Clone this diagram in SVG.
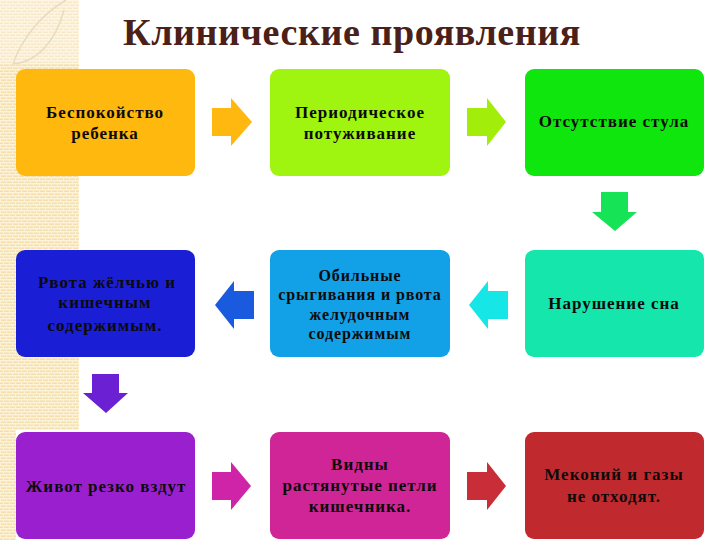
<svg xmlns="http://www.w3.org/2000/svg" width="720" height="540" viewBox="0 0 720 540">
<style>
text{font-family:"Liberation Serif","Times New Roman",serif;font-weight:bold;font-size:17px;fill:#0d0a0a;text-anchor:middle;letter-spacing:1px}
.title{font-size:38px;fill:#4a2018;letter-spacing:.6px}
#n5 text{font-size:16px;letter-spacing:.9px}
</style>
<defs>
<pattern id="p" width="6" height="6" patternUnits="userSpaceOnUse">
<rect width="6" height="6" fill="#f5dfae"/>
<rect y="0" width="6" height="1.5" fill="#fdf3d8"/>
<rect y="3" width="6" height="1.5" fill="#fdf3d8"/>
<rect x="0" y="1.5" width="1" height="1.5" fill="#fdf3d8"/>
<rect x="3" y="4.5" width="1" height="1.5" fill="#fdf3d8"/>
</pattern>
</defs>
<rect width="720" height="540" fill="#fff"/>
<g id="background">
<rect x="0" y="0" width="79" height="430" fill="url(#p)"/>
<rect x="0" y="430" width="16" height="110" fill="url(#p)"/>
<rect x="0" y="0" width="79" height="64" fill="#fff" opacity=".3"/>
<path d="M13 64C22 38 42 14 66 0M13 64C38 62 56 40 64 10" fill="none" stroke="#e8dcc0" stroke-width="1.5"/>
</g>
<text class="title" x="352" y="45">Клинические проявления</text>
<g id="connectors">
<path d="M212 108h19v-10l21 24-21 24v-10h-19z" fill="#ffb810"/>
<path d="M467 108h20v-10l19 24-19 24v-10h-20z" fill="#a2ee0a"/>
<path d="M601 192h27v20h9l-22 19-23-19h9z" fill="#17e356"/>
<path d="M508 291h-20v-10l-19 24 19 24v-10h20z" fill="#17e6e6"/>
<path d="M254 291h-20v-10l-19 24 19 24v-10h20z" fill="#1a5adf"/>
<path d="M92 374h27v19h9l-22 20-23-20h9z" fill="#6c20d4"/>
<path d="M212 472h19v-10l20 24-20 24v-10h-19z" fill="#d024a8"/>
<path d="M467 472h20v-10l19 24-19 24v-10h-20z" fill="#c92d38"/>
</g>
<g id="n1"><rect x="16" y="69" width="179" height="107" rx="9" fill="#ffb80d"/><text x="105" y="118">Беспокойство</text><text x="105" y="139">ребенка</text></g>
<g id="n2"><rect x="270" y="69" width="180" height="107" rx="9" fill="#9ff50f"/><text x="360" y="118">Периодическое</text><text x="360" y="139">потуживание</text></g>
<g id="n3"><rect x="525" y="69" width="179" height="107" rx="9" fill="#0ee60e"/><text x="614" y="127">Отсутствие стула</text></g>
<g id="n4"><rect x="525" y="250" width="179" height="107" rx="9" fill="#14e6ac"/><text x="614" y="309">Нарушение сна</text></g>
<g id="n5"><rect x="270" y="250" width="180" height="107" rx="9" fill="#12a0e6"/><text x="360" y="281">Обильные</text><text x="360" y="300">срыгивания и рвота</text><text x="360" y="320">желудочным</text><text x="360" y="339">содержимым</text></g>
<g id="n6"><rect x="16" y="250" width="179" height="107" rx="9" fill="#1a1fd6"/><text x="107" y="288">Рвота жёлчью и</text><text x="105" y="308">кишечным</text><text x="105" y="331">содержимым.</text></g>
<g id="n7"><rect x="16" y="432" width="179" height="107" rx="9" fill="#9a20cf"/><text x="106" y="492">Живот резко вздут</text></g>
<g id="n8"><rect x="270" y="432" width="180" height="107" rx="9" fill="#cf2597"/><text x="360" y="470">Видны</text><text x="360" y="491">растянутые петли</text><text x="360" y="512">кишечника.</text></g>
<g id="n9"><rect x="525" y="432" width="179" height="107" rx="9" fill="#c02a2e"/><text x="614" y="480">Меконий и газы</text><text x="614" y="502">не отходят.</text></g>
</svg>
